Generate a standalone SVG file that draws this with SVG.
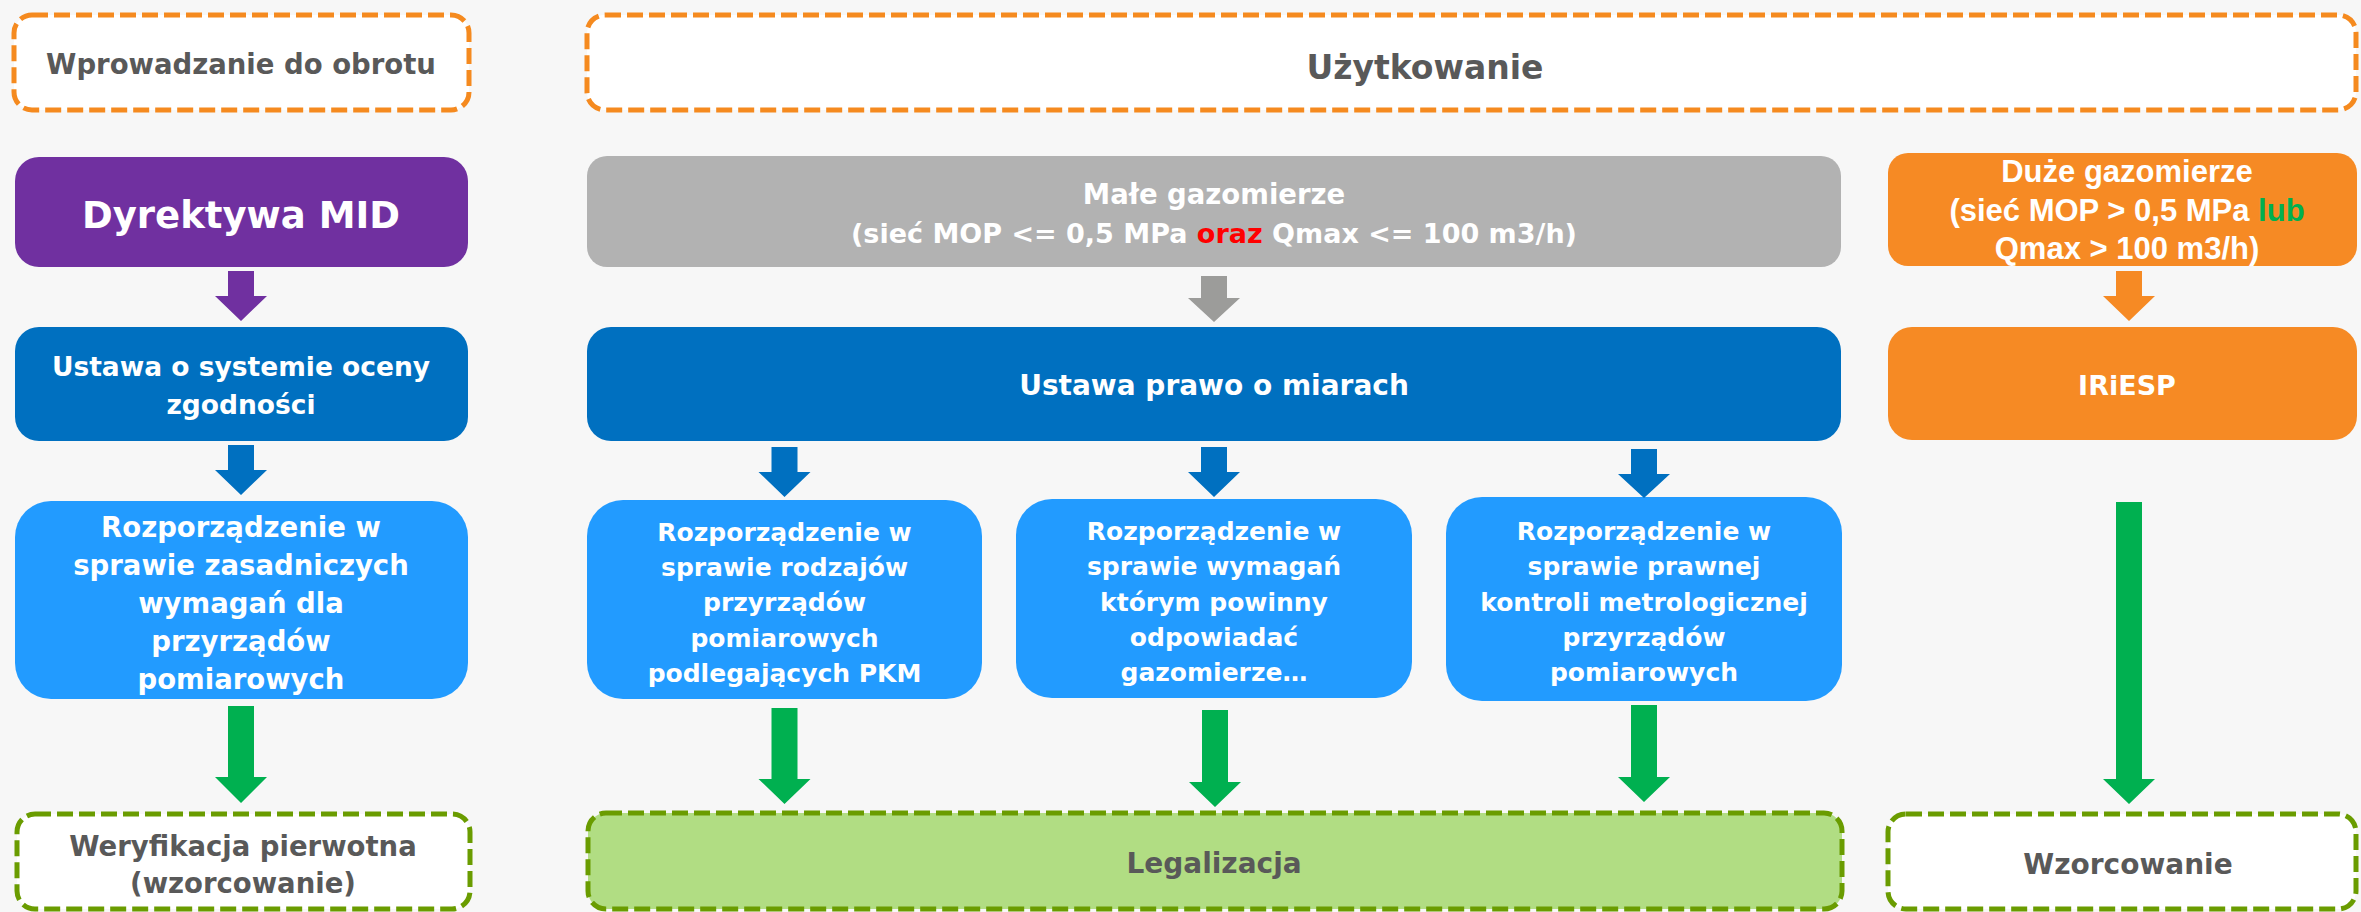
<svg xmlns="http://www.w3.org/2000/svg" width="2361" height="912" viewBox="0 0 2361 912">
<style>
.t{font-family:"DejaVu Sans","Liberation Sans",sans-serif;font-weight:bold;text-anchor:middle}
.a{font-family:"Liberation Sans",Arial,sans-serif;font-weight:bold;text-anchor:middle;fill:#fff;font-size:31px}
.w{fill:#fff}
.d{fill:#595959}
.dashO{fill:#fff;stroke:#F58A1F;stroke-width:5;stroke-dasharray:16 6}
.dashG{stroke:#6A9C00;stroke-width:5;stroke-dasharray:16 6}
.lb{fill:#229BFF}
.db{fill:#0070C0}
</style>
<rect x="0" y="0" width="2361" height="912" fill="#F7F7F7"/>

<g id="wprowadzanie">
<rect class="dashO" x="14" y="15" width="455" height="95" rx="18"/>
<text class="t d" x="241" y="74" font-size="27.5">Wprowadzanie do obrotu</text>
</g>
<g id="uzytkowanie">
<rect class="dashO" x="587" y="15" width="1769" height="95" rx="18"/>
<text class="t d" x="1425" y="79" font-size="33">Użytkowanie</text>
</g>

<g id="mid">
<rect x="15" y="157" width="453" height="110" rx="24" fill="#7030A0"/>
<text class="t w" x="241" y="228" font-size="37">Dyrektywa MID</text>
</g>
<g id="male">
<rect x="587" y="156" width="1254" height="111" rx="20" fill="#B2B2B2"/>
<text class="t w" x="1214" y="204" font-size="27.5">Małe gazomierze</text>
<text class="t w" x="1214" y="243" font-size="27">(sieć MOP &lt;= 0,5 MPa <tspan fill="#FF0000">oraz</tspan> Qmax &lt;= 100 m3/h)</text>
</g>
<g id="duze">
<rect x="1888" y="153" width="469" height="113" rx="20" fill="#F68A24"/>
<text class="a" x="2127" y="182">Duże gazomierze</text>
<text class="a" x="2127" y="221">(sieć MOP &gt; 0,5 MPa <tspan fill="#00B050">lub</tspan></text>
<text class="a" x="2127" y="259">Qmax &gt; 100 m3/h)</text>
</g>

<g id="ustawa-ocena">
<rect class="db" x="15" y="327" width="453" height="114" rx="24"/>
<text class="t w" x="241" y="376" font-size="26.5">Ustawa o systemie oceny</text>
<text class="t w" x="241" y="414" font-size="26.5">zgodności</text>
</g>
<g id="ustawa-miary">
<rect class="db" x="587" y="327" width="1254" height="114" rx="24"/>
<text class="t w" x="1214" y="395" font-size="28">Ustawa prawo o miarach</text>
</g>
<g id="iriesp">
<rect x="1888" y="327" width="469" height="113" rx="24" fill="#F68A24"/>
<text class="t w" x="2127" y="395" font-size="27">IRiESP</text>
</g>

<g id="rozp-zasadnicze">
<rect class="lb" x="15" y="501" width="453" height="198" rx="36"/>
<text class="t w" x="241" y="537" font-size="27.5">Rozporządzenie w</text>
<text class="t w" x="241" y="575" font-size="27.5">sprawie zasadniczych</text>
<text class="t w" x="241" y="613" font-size="27.5">wymagań dla</text>
<text class="t w" x="241" y="651" font-size="27.5">przyrządów</text>
<text class="t w" x="241" y="689" font-size="27.5">pomiarowych</text>
</g>
<g id="rozp-rodzaje">
<rect class="lb" x="587" y="500" width="395" height="199" rx="36"/>
<text class="t w" x="784.5" y="541" font-size="25">Rozporządzenie w</text>
<text class="t w" x="784.5" y="576" font-size="25">sprawie rodzajów</text>
<text class="t w" x="784.5" y="611" font-size="25">przyrządów</text>
<text class="t w" x="784.5" y="647" font-size="25">pomiarowych</text>
<text class="t w" x="784.5" y="682" font-size="25">podlegających PKM</text>
</g>
<g id="rozp-wymagania">
<rect class="lb" x="1016" y="499" width="396" height="199" rx="36"/>
<text class="t w" x="1214" y="540" font-size="25">Rozporządzenie w</text>
<text class="t w" x="1214" y="575" font-size="25">sprawie wymagań</text>
<text class="t w" x="1214" y="611" font-size="25">którym powinny</text>
<text class="t w" x="1214" y="646" font-size="25">odpowiadać</text>
<text class="t w" x="1214" y="681" font-size="25">gazomierze…</text>
</g>
<g id="rozp-kontrola">
<rect class="lb" x="1446" y="497" width="396" height="204" rx="36"/>
<text class="t w" x="1644" y="540" font-size="25">Rozporządzenie w</text>
<text class="t w" x="1644" y="575" font-size="25">sprawie prawnej</text>
<text class="t w" x="1644" y="611" font-size="25">kontroli metrologicznej</text>
<text class="t w" x="1644" y="646" font-size="25">przyrządów</text>
<text class="t w" x="1644" y="681" font-size="25">pomiarowych</text>
</g>

<g id="weryfikacja">
<rect class="dashG" fill="#fff" x="17" y="814" width="453" height="95" rx="18"/>
<text class="t d" x="243" y="856" font-size="27.5">Weryfikacja pierwotna</text>
<text class="t d" x="243" y="893" font-size="27.5">(wzorcowanie)</text>
</g>
<g id="legalizacja">
<rect class="dashG" fill="#B1DD83" x="588" y="813" width="1254" height="96" rx="18"/>
<text class="t d" x="1214" y="873" font-size="28">Legalizacja</text>
</g>
<g id="wzorcowanie">
<rect class="dashG" fill="#fff" x="1888" y="814" width="468" height="95" rx="18"/>
<text class="t d" x="2128" y="874" font-size="28">Wzorcowanie</text>
</g>

<g id="connectors">
<polygon fill="#7030A0" points="228,271 254,271 254,296 267,296 241,321 215,296 228,296"/>
<polygon fill="#9C9C9A" points="1201,276 1227,276 1227,298 1240,298 1214,322 1188,298 1201,298"/>
<polygon fill="#F68A24" points="2116,271 2142,271 2142,296 2155,296 2129,321 2103,296 2116,296"/>
<polygon fill="#0070C0" points="228,445 254,445 254,470 267,470 241,495 215,470 228,470"/>
<polygon fill="#0070C0" points="771.5,447 797.5,447 797.5,472 810.5,472 784.5,497 758.5,472 771.5,472"/>
<polygon fill="#0070C0" points="1201,447 1227,447 1227,472 1240,472 1214,497 1188,472 1201,472"/>
<polygon fill="#0070C0" points="1631,449 1657,449 1657,474 1670,474 1644,498 1618,474 1631,474"/>
<polygon fill="#00B050" points="228,706 254,706 254,777 267,777 241,803 215,777 228,777"/>
<polygon fill="#00B050" points="771.5,708 797.5,708 797.5,779 810.5,779 784.5,804 758.5,779 771.5,779"/>
<polygon fill="#00B050" points="1202,710 1228,710 1228,782 1241,782 1215,807 1189,782 1202,782"/>
<polygon fill="#00B050" points="1631,705 1657,705 1657,777 1670,777 1644,802 1618,777 1631,777"/>
<polygon fill="#00B050" points="2116,502 2142,502 2142,779 2155,779 2129,804 2103,779 2116,779"/>
</g>
</svg>
